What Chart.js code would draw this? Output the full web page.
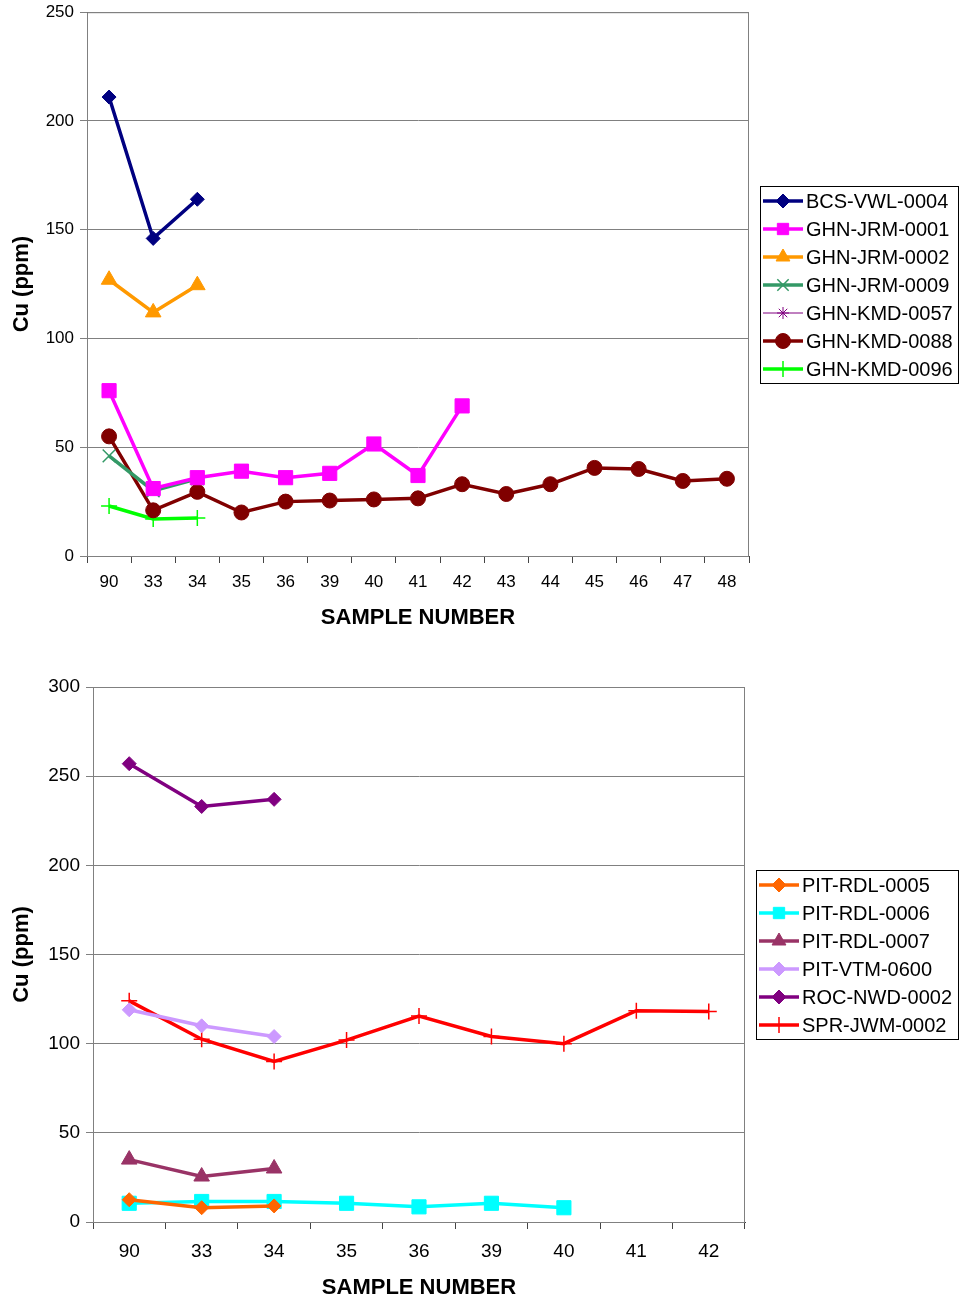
<!DOCTYPE html>
<html>
<head>
<meta charset="utf-8">
<script src="https://cdn.jsdelivr.net/npm/chart.js@4.4.0/dist/chart.umd.min.js"></script>
<style>
html, body { margin: 0; padding: 0; background: #fff; overflow: hidden; }
#chartTop { position: absolute; left: 0; top: -4px; }
#chartBottom { position: absolute; left: 0; top: 645px; }
</style>
</head>
<body>
<canvas id="chartTop" width="960" height="649"></canvas>
<canvas id="chartBottom" width="960" height="656"></canvas>
<script>
// categorias (números de amostra)
const topSamples = ['90', '33', '34', '35', '36', '39', '40', '41', '42', '43', '44', '45', '46', '47', '48'];
const bottomSamples = ['90', '33', '34', '35', '36', '39', '40', '41', '42'];

// gráfico de cima
const bcsVwl0004 = [211, 146, 164];
const ghnJrm0001 = [76, 31, 36, 39, 36, 38, 51.5, 37, 69];
const ghnJrm0002 = [127, 112, 124.5];
const ghnJrm0009 = [46, 30, 35.5];
const ghnKmd0057 = [null, null, null];
const ghnKmd0088 = [55, 21, 29.5, 20, 25, 25.5, 26, 26.5, 33, 28.5, 33, 40.5, 40, 34.5, 35.5];
const ghnKmd0096 = [23, 17, 17.5];
const topTicks = [0, 50, 100, 150, 200, 250];

// gráfico de baixo
const pitRdl0005 = [12.5, 8, 9];
const pitRdl0006 = [10.5, 11.5, 11.5, 10.5, 8.5, 10.5, 8];
const pitRdl0007 = [35, 25.5, 30];
const pitVtm0600 = [119, 110, 104];
const rocNwd0002 = [257, 233, 237];
const sprJwm0002 = [124, 102.5, 90, 102, 115.5, 104, 100, 118.5, 118];
const bottomTicks = [0, 50, 100, 150, 200, 250, 300];

const FONT = "'Liberation Sans', Arial, sans-serif";

function series(label, data, color, style, radius, width, pointBorder) {
    return {
        label: label,
        data: data,
        borderColor: color,
        backgroundColor: color,
        borderWidth: width,
        pointStyle: style,
        pointRadius: radius,
        pointHoverRadius: radius,
        pointBackgroundColor: color,
        pointBorderColor: color,
        pointBorderWidth: pointBorder,
        tension: 0
    };
}

// moldura da área do gráfico + legenda com caixa
const framePlugin = {
    id: 'frameBox',
    beforeDatasetsDraw(chart) {
        const a = chart.chartArea;
        const ctx = chart.ctx;
        ctx.save();
        ctx.strokeStyle = '#808080';
        ctx.lineWidth = 1;
        ctx.strokeRect(a.left + 0.5, a.top + 0.5, a.right - a.left - 1, a.bottom - a.top);
        ctx.restore();
    },
    afterDraw(chart, args, opts) {
        const a = chart.chartArea;
        const ctx = chart.ctx;
        const sets = chart.data.datasets;
        const rowH = 28;
        const boxH = sets.length * rowH + 1;
        const left = a.right + opts.gap;
        const top = Math.round((a.top + a.bottom) / 2 - boxH / 2);
        ctx.save();
        ctx.strokeStyle = '#000';
        ctx.lineWidth = 1;
        ctx.strokeRect(left + 0.5, top + 0.5, opts.width, boxH);
        sets.forEach((ds, i) => {
            const y = top + 15 + i * rowH;
            ctx.strokeStyle = ds.borderColor;
            ctx.lineWidth = ds.borderWidth;
            ctx.beginPath();
            ctx.moveTo(left + 3, y);
            ctx.lineTo(left + 43, y);
            ctx.stroke();
            ctx.fillStyle = ds.pointBackgroundColor;
            ctx.strokeStyle = ds.pointBorderColor;
            ctx.lineWidth = ds.pointBorderWidth;
            Chart.helpers.drawPoint(ctx, {
                pointStyle: ds.pointStyle,
                radius: Math.min(ds.pointRadius, 8),
                borderWidth: ds.pointBorderWidth,
                rotation: 0
            }, left + 23, y);
            ctx.fillStyle = '#000';
            ctx.font = '20px ' + FONT;
            ctx.textBaseline = 'middle';
            ctx.fillText(ds.label, left + 46, y + 1);
        });
        ctx.restore();
    }
};

function makeOptions(ticks, tickFont, yWidth, xHeight, pad, legendGap, legendWidth, xPad, titlePadX) {
    return {
        responsive: false,
        animation: false,
        layout: { padding: pad },
        plugins: {
            legend: { display: false },
            tooltip: { enabled: false },
            frameBox: { gap: legendGap, width: legendWidth }
        },
        scales: {
            x: {
                offset: true,
                grid: { offset: true, drawOnChartArea: false, tickLength: 7, color: '#444' },
                border: { color: '#444', width: 1 },
                ticks: { color: '#000', font: { family: FONT, size: tickFont }, padding: xPad, maxRotation: 0, autoSkip: false },
                title: {
                    display: true,
                    text: 'SAMPLE NUMBER',
                    color: '#000',
                    font: { family: FONT, size: 22, weight: 'bold' },
                    padding: { top: 4, bottom: titlePadX }
                },
                afterFit: s => { s.height = xHeight; }
            },
            y: {
                min: ticks[0],
                max: ticks[ticks.length - 1],
                afterBuildTicks: s => { s.ticks = ticks.map(v => ({ value: v })); },
                grid: { color: '#808080', tickLength: 7, drawTicks: true },
                border: { color: '#444', width: 1 },
                ticks: { color: '#000', font: { family: FONT, size: tickFont }, padding: 6 },
                title: {
                    display: true,
                    text: 'Cu (ppm)',
                    color: '#000',
                    font: { family: FONT, size: 22, weight: 'bold' },
                    padding: { top: 9, bottom: 4 }
                },
                afterFit: s => { s.width = yWidth; }
            }
        }
    };
}

new Chart(document.getElementById('chartTop'), {
    type: 'line',
    data: {
        labels: topSamples,
        datasets: [
            series('BCS-VWL-0004', bcsVwl0004, '#000080', 'rectRot', 7, 3.5, 1),
            series('GHN-JRM-0001', ghnJrm0001, '#FF00FF', 'rect', 10, 3.5, 1),
            series('GHN-JRM-0002', ghnJrm0002, '#FF9900', 'triangle', 9, 3.5, 1),
            series('GHN-JRM-0009', ghnJrm0009, '#339966', 'crossRot', 9, 3.5, 1.5),
            series('GHN-KMD-0057', ghnKmd0057, '#800080', 'star', 6, 1, 1),
            series('GHN-KMD-0088', ghnKmd0088, '#800000', 'circle', 7.5, 3.5, 1),
            series('GHN-KMD-0096', ghnKmd0096, '#00FF00', 'cross', 8, 3.5, 1.5)
        ]
    },
    options: makeOptions(topTicks, 17, 87, 89, { top: 12, right: 211, left: 0, bottom: 0 }, 11, 198, 9, 14),
    plugins: [framePlugin]
});

new Chart(document.getElementById('chartBottom'), {
    type: 'line',
    data: {
        labels: bottomSamples,
        datasets: [
            series('PIT-RDL-0005', pitRdl0005, '#FF6600', 'rectRot', 7, 3.5, 1),
            series('PIT-RDL-0006', pitRdl0006, '#00FFFF', 'rect', 10, 3.5, 1),
            series('PIT-RDL-0007', pitRdl0007, '#993366', 'triangle', 9, 3.5, 1),
            series('PIT-VTM-0600', pitVtm0600, '#CC99FF', 'rectRot', 7, 3.5, 1),
            series('ROC-NWD-0002', rocNwd0002, '#800080', 'rectRot', 7, 3.5, 1),
            series('SPR-JWM-0002', sprJwm0002, '#FF0000', 'cross', 8, 3.5, 1.5)
        ]
    },
    options: makeOptions(bottomTicks, 19, 93, 79, { top: 42, right: 215, left: 0, bottom: 0 }, 11, 202, 11, 0),
    plugins: [framePlugin]
});
</script>
</body>
</html>
